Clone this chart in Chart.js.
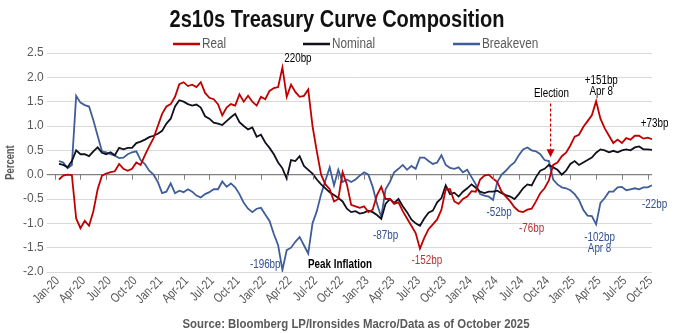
<!DOCTYPE html>
<html>
<head>
<meta charset="utf-8">
<script src="https://cdn.jsdelivr.net/npm/chart.js@4.4.1/dist/chart.umd.min.js"></script>
<style>
  body { margin: 0; background: #fff; }
  #wrap { width: 674px; height: 333px; }
</style>
</head>
<body>
<div id="wrap"><canvas id="curveChart"></canvas></div>
<script>
const FONT = "'Liberation Sans', Arial, sans-serif";
const GREY = "#595959";

// one x tick per quarter, starting Jan-20 (month 0)
const quarterLabels = [
    "Jan-20", "Apr-20", "Jul-20", "Oct-20", "Jan-21", "Apr-21", "Jul-21", "Oct-21",
    "Jan-22", "Apr-22", "Jul-22", "Oct-22", "Jan-23", "Apr-23", "Jul-23", "Oct-23",
    "Jan-24", "Apr-24", "Jul-24", "Oct-24", "Jan-25", "Apr-25", "Jul-25", "Oct-25"
];

// values read every half month, first one mid Jan-20
const firstMonth = 0.5;
const stepMonths = 0.5;

const realVals = [
    -0.1, -0.02, 0.0, -0.01, -0.9, -1.1, -0.95, -1.05, -0.75, -0.3, -0.02, 0.02,
    0.05, 0.07, 0.22, 0.12, 0.08, 0.12, 0.25, 0.2, 0.4, 0.58, 0.75, 1.0,
    1.25, 1.4, 1.45, 1.6, 1.86, 1.9, 1.82, 1.85, 1.8, 1.9, 1.68, 1.58,
    1.55, 1.45, 1.22, 1.38, 1.45, 1.42, 1.65, 1.5, 1.62, 1.5, 1.42, 1.6,
    1.55, 1.72, 1.78, 1.8, 2.2, 1.6, 1.85, 1.7, 1.6, 1.62, 1.75, 1.0,
    0.48, 0.0, -0.2, -0.3, -0.55, -0.5, 0.05, -0.2, -0.62, -0.65, -0.68, -0.65,
    -0.77, -0.72, -0.42, -0.25, -0.5, -0.5, -0.6, -0.57, -0.75, -0.9, -1.05, -1.2,
    -1.52, -1.3, -1.12, -1.02, -0.92, -0.72, -0.3, -0.3, -0.55, -0.6, -0.5, -0.45,
    -0.34, -0.35, -0.1, -0.02, 0.0, -0.08, -0.15, -0.35, -0.45, -0.55, -0.67, -0.75,
    -0.77, -0.72, -0.7, -0.55, -0.38, -0.28, -0.12, 0.2, 0.25, 0.38, 0.45, 0.6,
    0.78, 0.82, 0.98, 1.1, 1.22, 1.51, 1.15, 0.95, 0.8, 0.65, 0.72, 0.65,
    0.75, 0.72, 0.8, 0.8, 0.74, 0.76, 0.73
];

const nominalVals = [
    0.22, 0.2, 0.15, 0.28, 0.5, 0.42, 0.42, 0.38, 0.48, 0.56, 0.45, 0.42,
    0.46, 0.4, 0.55, 0.52, 0.55, 0.55, 0.65, 0.68, 0.72, 0.77, 0.8, 0.84,
    0.9, 1.05, 1.15, 1.4, 1.53, 1.5, 1.45, 1.42, 1.44, 1.38, 1.2, 1.15,
    1.07, 1.05, 1.02, 1.1, 1.18, 1.25, 1.08, 1.0, 0.93, 0.97, 0.78, 0.82,
    0.66, 0.55, 0.42, 0.25, 0.13, -0.08, 0.3, 0.28, 0.38, 0.18, 0.1, 0.02,
    -0.1, -0.2, -0.28, -0.36, -0.42, -0.48, -0.55, -0.7, -0.77, -0.75, -0.8, -0.78,
    -0.74, -0.77, -0.83, -0.91, -0.6, -0.5, -0.58, -0.5, -0.65, -0.77, -0.92, -1.0,
    -1.05, -0.9, -0.78, -0.74, -0.57, -0.48, -0.22, -0.4, -0.37, -0.45, -0.35, -0.28,
    -0.2, -0.27, -0.35, -0.38, -0.35, -0.35, -0.33, -0.38, -0.42, -0.45, -0.5, -0.4,
    -0.28, -0.2, -0.22, -0.05, 0.08, 0.12, 0.2, 0.15, 0.1, 0.0, 0.08, 0.22,
    0.28, 0.2, 0.25, 0.3, 0.35, 0.45, 0.52, 0.5, 0.46, 0.49, 0.46, 0.5,
    0.52, 0.5, 0.56, 0.58, 0.52, 0.52, 0.51
];

const breakevenVals = [
    0.28, 0.25, 0.13, 0.2, 1.62, 1.48, 1.43, 1.4, 1.12, 0.8, 0.48, 0.46,
    0.42, 0.39, 0.34, 0.35, 0.42, 0.46, 0.48, 0.3, 0.22, 0.08, 0.0, -0.15,
    -0.38, -0.35, -0.18, -0.38, -0.33, -0.36, -0.3, -0.35, -0.43, -0.47, -0.4, -0.36,
    -0.3, -0.3, -0.14, -0.25, -0.18, -0.26, -0.4, -0.58, -0.7, -0.77, -0.7, -0.68,
    -0.82, -0.95, -1.22, -1.45, -1.96, -1.55, -1.5, -1.38, -1.28, -1.45, -1.62, -1.0,
    -0.75, -0.4, -0.12, 0.15, -0.22, 0.1, -0.15, -0.1, -0.15, -0.1, -0.02, 0.05,
    0.0, -0.25, -0.6, -0.87, -0.3, -0.15, 0.05, 0.12, 0.2, 0.1, 0.18, 0.12,
    0.35, 0.35, 0.28, 0.22, 0.25, 0.4, 0.2, 0.14, 0.12, 0.15, 0.05, 0.1,
    -0.05, -0.2, -0.4, -0.43, -0.45, -0.52, -0.15, 0.0, 0.08, 0.18, 0.25, 0.4,
    0.52, 0.56, 0.5, 0.48, 0.42, 0.3, 0.28, -0.1, -0.2, -0.26, -0.28, -0.32,
    -0.4, -0.52, -0.72, -0.84, -0.85, -1.02, -0.58, -0.48, -0.35, -0.35, -0.26, -0.25,
    -0.32, -0.3, -0.28, -0.3, -0.26, -0.26, -0.22
];

// text labels on the chart, placed in data units (month, percent)
const notes = [
    { text: "220bp", x: 28.3, y: 2.38, color: "#000" },
    { text: "-196bp", x: 24.5, y: -1.86, color: "#2f4f8f" },
    { text: "Peak Inflation", x: 33.2, y: -1.86, color: "#000", bold: true },
    { text: "-87bp", x: 38.5, y: -1.26, color: "#2f4f8f" },
    { text: "-152bp", x: 43.3, y: -1.76, color: "#b83232" },
    { text: "-52bp", x: 51.7, y: -0.78, color: "#2f4f8f" },
    { text: "-76bp", x: 55.5, y: -1.11, color: "#b83232" },
    { text: "Election", x: 57.8, y: 1.67, color: "#000" },
    { text: "+151bp", x: 63.6, y: 1.94, color: "#000" },
    { text: "Apr 8", x: 63.6, y: 1.70, color: "#000" },
    { text: "+73bp", x: 69.8, y: 1.05, color: "#000" },
    { text: "-102bp", x: 63.4, y: -1.29, color: "#2f4f8f" },
    { text: "Apr 8", x: 63.4, y: -1.52, color: "#2f4f8f" },
    { text: "-22bp", x: 69.8, y: -0.62, color: "#2f4f8f" }
];

const electionMonth = 57.7;

const seriesInfo = [
    { label: "Real", vals: realVals, color: "#c00000", legendX: 173 },
    { label: "Nominal", vals: nominalVals, color: "#10101e", legendX: 303 },
    { label: "Breakeven", vals: breakevenVals, color: "#3f5d98", legendX: 453 }
];

function toPoints(vals) {
    return vals.map((v, i) => ({ x: firstMonth + i * stepMonths, y: v }));
}

// the original uses a narrow face, so squeeze Liberation Sans sideways
function narrowText(ctx, text, x, y, squeeze) {
    ctx.save();
    ctx.translate(x, y);
    ctx.scale(squeeze, 1);
    ctx.fillText(text, 0, 0);
    ctx.restore();
}

function fitText(ctx, text, cx, y, width) {
    const w = ctx.measureText(text).width;
    ctx.textAlign = "center";
    narrowText(ctx, text, cx, y, width / w);
}

const extrasPlugin = {
    id: "extras",
    afterDraw(chart) {
        const ctx = chart.ctx;
        const xs = chart.scales.x;
        const ys = chart.scales.y;
        const area = chart.chartArea;
        ctx.save();

        // title
        ctx.fillStyle = "#111";
        ctx.font = "bold 23px " + FONT;
        ctx.textBaseline = "alphabetic";
        fitText(ctx, "2s10s Treasury Curve Composition", 337, 27, 335);

        // legend
        ctx.font = "14px " + FONT;
        ctx.textAlign = "left";
        ctx.textBaseline = "middle";
        seriesInfo.forEach(s => {
            ctx.strokeStyle = s.color;
            ctx.lineWidth = 2.5;
            ctx.beginPath();
            ctx.moveTo(s.legendX, 44);
            ctx.lineTo(s.legendX + 27, 44);
            ctx.stroke();
            ctx.fillStyle = GREY;
            narrowText(ctx, s.label, s.legendX + 29, 44, 0.84);
        });

        // source line
        ctx.font = "bold 13px " + FONT;
        ctx.fillStyle = GREY;
        fitText(ctx, "Source: Bloomberg LP/Ironsides Macro/Data as of October 2025", 356, 324, 347);

        // y axis title
        ctx.save();
        ctx.translate(11, (area.top + area.bottom) / 2);
        ctx.rotate(-Math.PI / 2);
        ctx.font = "bold 12px " + FONT;
        ctx.fillStyle = GREY;
        ctx.textAlign = "center";
        narrowText(ctx, "Percent", 0, 0, 0.78);
        ctx.restore();

        // x tick labels, slanted 45 degrees, ending at their tick
        ctx.font = "13px " + FONT;
        ctx.fillStyle = GREY;
        ctx.textAlign = "right";
        ctx.textBaseline = "middle";
        xs.ticks.forEach((t, i) => {
            ctx.save();
            ctx.translate(xs.getPixelForValue(t.value) + 3, area.bottom + 7);
            ctx.rotate(-Math.PI / 4);
            ctx.scale(0.8, 1);
            ctx.fillText(quarterLabels[i], 0, 0);
            ctx.restore();
        });

        // small ticks hanging from the zero line
        const y0 = ys.getPixelForValue(0);
        ctx.strokeStyle = "#808080";
        ctx.lineWidth = 1;
        xs.ticks.forEach(t => {
            const px = Math.round(xs.getPixelForValue(t.value)) + 0.5;
            ctx.beginPath();
            ctx.moveTo(px, y0);
            ctx.lineTo(px, y0 + 5);
            ctx.stroke();
        });

        // annotations
        ctx.textAlign = "center";
        ctx.textBaseline = "middle";
        notes.forEach(n => {
            ctx.font = (n.bold ? "bold 12px " : "12px ") + FONT;
            ctx.fillStyle = n.color;
            narrowText(ctx, n.text, xs.getPixelForValue(n.x), ys.getPixelForValue(n.y), 0.82);
        });

        // election arrow
        const ex = xs.getPixelForValue(electionMonth);
        const top = ys.getPixelForValue(1.46);
        const tip = ys.getPixelForValue(0.36);
        ctx.strokeStyle = "#c00000";
        ctx.fillStyle = "#c00000";
        ctx.lineWidth = 1.2;
        ctx.setLineDash([3, 2]);
        ctx.beginPath();
        ctx.moveTo(ex, top);
        ctx.lineTo(ex, tip - 6);
        ctx.stroke();
        ctx.setLineDash([]);
        ctx.beginPath();
        ctx.moveTo(ex - 4, tip - 8);
        ctx.lineTo(ex + 4, tip - 8);
        ctx.lineTo(ex, tip);
        ctx.closePath();
        ctx.fill();

        ctx.restore();
    }
};

new Chart(document.getElementById("curveChart"), {
    type: "line",
    data: {
        datasets: seriesInfo.map(s => ({
            label: s.label,
            data: toPoints(s.vals),
            borderColor: s.color,
            backgroundColor: s.color,
            borderWidth: 1.8,
            pointRadius: 0,
            tension: 0
        }))
    },
    options: {
        responsive: true,
        maintainAspectRatio: false,
        animation: false,
        layout: { padding: { top: 53, right: 22, bottom: 61, left: 20 } },
        plugins: {
            legend: { display: false },
            tooltip: { enabled: false }
        },
        scales: {
            x: {
                type: "linear",
                min: 0,
                max: 69.5,
                afterBuildTicks: axis => {
                    axis.ticks = quarterLabels.map((l, i) => ({ value: i * 3 }));
                },
                grid: { display: false, drawTicks: false },
                border: { display: false },
                ticks: { display: false }
            },
            y: {
                min: -2,
                max: 2.5,
                border: { display: false },
                grid: {
                    color: c => c.tick.value === 0 ? "#808080" : "#d9d9d9",
                    lineWidth: c => c.tick.value === 0 ? 1.2 : 1,
                    tickLength: 8
                },
                ticks: {
                    stepSize: 0.5,
                    padding: 3,
                    color: GREY,
                    font: { family: FONT, size: 12 },
                    callback: v => v.toFixed(1)
                }
            }
        }
    },
    plugins: [extrasPlugin]
});
</script>
</body>
</html>
